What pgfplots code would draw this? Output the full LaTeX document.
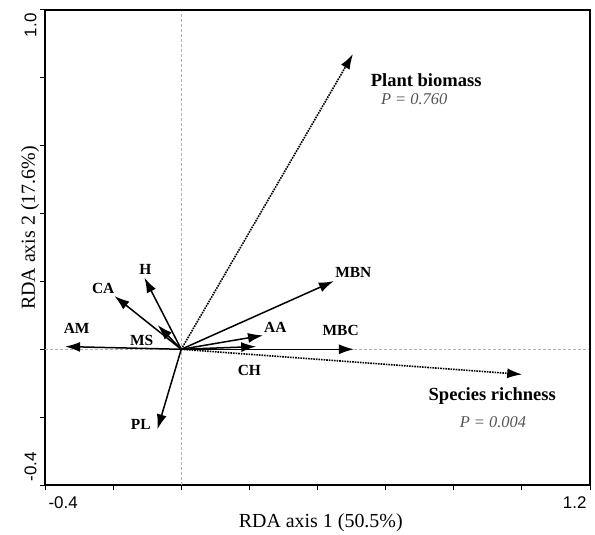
\documentclass[border=0pt]{standalone}
\usepackage{pgfplots}
\pgfplotsset{compat=1.18}
\usepackage{fontspec}
\setmainfont{Liberation Serif}
\newfontfamily\arial{Liberation Sans}
\usetikzlibrary{arrows.meta}
\definecolor{pgray}{HTML}{555555}
\begin{document}
\begin{tikzpicture}
\path[use as bounding box] (-45bp,-50bp) rectangle (550bp,485bp);
\begin{axis}[
  at={(0,0)}, anchor=south west,
  scale only axis, width=545bp, height=475bp,
  xmin=-0.4, xmax=1.2, ymin=-0.4, ymax=1.0,
  axis lines=box,
  axis line style={line width=1.3bp, black},
  tick align=outside, xtick pos=bottom, ytick pos=left,
  major tick length=5bp, tick style={line width=1bp, black},
  xtick={-0.2,0,0.2,0.4,0.6,0.8,1.0,1.2},
  xticklabels={,,,,,,,1.2},
  x tick label style={anchor=north east, font=\arial\fontsize{17}{17}\selectfont, yshift=-3bp},
  extra x ticks={-0.4}, extra x tick labels={-0.4},
  extra x tick style={x tick label style={anchor=north west}},
  ytick={-0.2,0,0.2,0.4,0.6,0.8,1.0},
  yticklabels={,,,,,,1.0},
  y tick label style={rotate=90, anchor=south east, font=\arial\fontsize{17}{17}\selectfont},
  extra y ticks={-0.4}, extra y tick labels={-0.4},
  extra y tick style={y tick label style={anchor=south west}},
  xlabel={RDA axis 1 (50.5\%)},
  ylabel={RDA axis 2 (17.6\%)},
  xlabel style={font=\fontsize{20}{20}\selectfont, at={(axis description cs:0.506,-0.08)}, anchor=center},
  ylabel style={font=\fontsize{20}{20}\selectfont, at={(axis description cs:-0.0275,0.541)}, anchor=center},
  clip=false,
]
% reference lines
\addplot[gray!60, densely dashed, line width=0.6bp] coordinates {(0,-0.4) (0,1.0)};
\addplot[gray!60, densely dashed, line width=0.6bp] coordinates {(-0.4,0) (1.2,0)};
% response variables (dotted)
\addplot[black, densely dotted, line width=1.6bp, -{Latex[length=15bp,width=10bp]}] coordinates {(0,0) (0.504,0.870)};
\addplot[black, densely dotted, line width=1.6bp, -{Latex[length=15bp,width=10bp]}] coordinates {(0,0) (1.001,-0.074)};
% explanatory variables
\pgfplotsset{arr/.style={black, solid, line width=1.5bp, -{Latex[length=15bp,width=10bp]}}}
\addplot[arr] coordinates {(0,0) (0.448,0.201)}; % MBN
\addplot[arr] coordinates {(0,0) (0.507,0.000)}; % MBC
\addplot[arr] coordinates {(0,0) (0.240,0.041)}; % AA
\addplot[arr] coordinates {(0,0) (0.220,0.008)}; % CH
\addplot[arr] coordinates {(0,0) (-0.341,0.008)}; % AM
\addplot[arr] coordinates {(0,0) (-0.069,0.071)}; % MS
\addplot[arr] coordinates {(0,0) (-0.196,0.157)}; % CA
\addplot[arr] coordinates {(0,0) (-0.108,0.211)}; % H
\addplot[arr] coordinates {(0,0) (-0.070,-0.236)}; % PL
\draw[line width=1.8bp, draw=black] (rel axis cs:0,1) -- (rel axis cs:1,1) -- (rel axis cs:1,0);
% labels
\node[font=\bfseries\fontsize{18.6}{18.6}\selectfont, inner sep=1bp] at (axis cs:0.719,0.793) {Plant biomass};
\node[font=\itshape\fontsize{16.5}{16.5}\selectfont, text=pgray, inner sep=1bp] at (axis cs:0.684,0.738) {P = 0.760};
\node[font=\bfseries\fontsize{18.6}{18.6}\selectfont, inner sep=1bp] at (axis cs:0.913,-0.138) {Species richness};
\node[font=\itshape\fontsize{16.5}{16.5}\selectfont, text=pgray, inner sep=1bp] at (axis cs:0.915,-0.214) {P = 0.004};
\node[font=\bfseries\fontsize{15.5}{15.5}\selectfont] at (axis cs:0.505,0.226) {MBN};
\node[font=\bfseries\fontsize{15.5}{15.5}\selectfont] at (axis cs:0.468,0.054) {MBC};
\node[font=\bfseries\fontsize{15.5}{15.5}\selectfont] at (axis cs:0.276,0.064) {AA};
\node[font=\bfseries\fontsize{15.5}{15.5}\selectfont] at (axis cs:0.200,-0.062) {CH};
\node[font=\bfseries\fontsize{15.5}{15.5}\selectfont] at (axis cs:-0.307,0.061) {AM};
\node[font=\bfseries\fontsize{15.5}{15.5}\selectfont] at (axis cs:-0.116,0.027) {MS};
\node[font=\bfseries\fontsize{15.5}{15.5}\selectfont] at (axis cs:-0.229,0.180) {CA};
\node[font=\bfseries\fontsize{15.5}{15.5}\selectfont] at (axis cs:-0.105,0.236) {H};
\node[font=\bfseries\fontsize{15.5}{15.5}\selectfont] at (axis cs:-0.119,-0.221) {PL};
\end{axis}
\end{tikzpicture}
\end{document}
